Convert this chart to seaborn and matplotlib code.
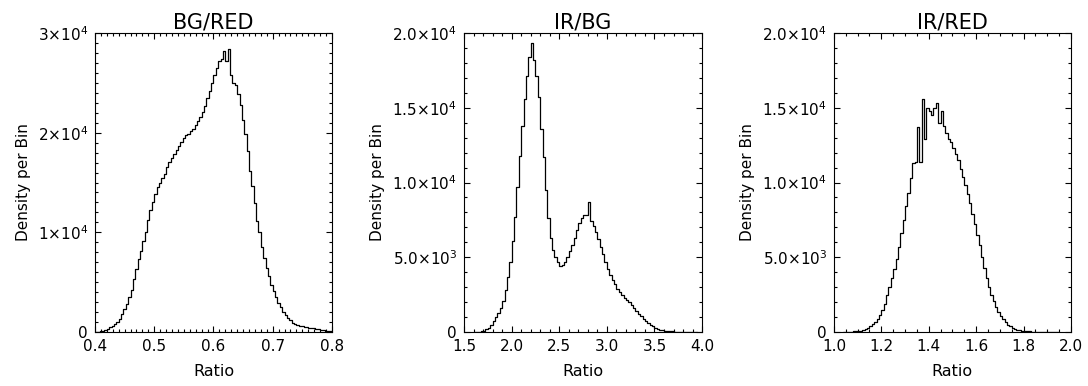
import numpy as np
import pandas as pd
import matplotlib
matplotlib.use("Agg")
import matplotlib.pyplot as plt
import seaborn as sns
from matplotlib.ticker import MultipleLocator, FuncFormatter

# Histogram counts (bin start, bin width, counts per bin)
BG_RED_START = 0.400
BG_RED_WIDTH = 0.004
bg_red_counts = [
    0, 30, 60, 120, 200, 330, 500, 650, 850, 1050,
    1350, 1800, 2300, 2800, 3500, 4200, 5300, 6300, 7300, 8100,
    9100, 10000, 11200, 12200, 13000, 13800, 14500, 15000, 15500, 15900,
    16600, 17100, 17500, 17900, 18300, 18700, 19100, 19500, 19800, 19900,
    20200, 20400, 20800, 21200, 21600, 22100, 22700, 23500, 24200, 25000,
    25800, 26500, 27200, 27400, 28200, 27200, 28400, 25800, 25000, 24800,
    23900, 22800, 21300, 19900, 18200, 16200, 14600, 12900, 11100, 10000,
    8500, 7400, 6400, 5600, 4700, 4100, 3500, 2900, 2500, 2000,
    1700, 1400, 1200, 950, 820, 720, 640, 580, 530, 480,
    440, 400, 360, 320, 280, 240, 200, 150, 100, 60,
]

IR_BG_START = 1.600
IR_BG_WIDTH = 0.025
ir_bg_counts = [
    0, 0, 20, 50, 100, 170, 300, 480, 720, 980,
    1250, 1600, 2100, 2800, 3700, 4700, 6100, 7700, 9700, 11800,
    13800, 15600, 17100, 18400, 19300, 18200, 17100, 15700, 13600, 11700,
    9500, 7600, 6300, 5500, 5000, 4700, 4400, 4500, 4700, 5000,
    5400, 5800, 6300, 6800, 7300, 7600, 7800, 7800, 8700, 7400,
    7100, 6700, 6200, 5700, 5200, 4700, 4200, 3800, 3500, 3200,
    2900, 2700, 2500, 2300, 2150, 2000, 1800, 1600, 1400, 1200,
    1050, 900, 760, 620, 500, 380, 280, 200, 150, 110,
    80, 60, 50, 40, 30, 25, 20, 20, 15, 15,
    10, 10, 5, 0,
]

IR_RED_START = 1.04
IR_RED_WIDTH = 0.01
ir_red_counts = [
    0, 10, 20, 30, 40, 50, 70, 100, 140, 190,
    260, 380, 520, 700, 900, 1150, 1500, 1900, 2500, 3000,
    3600, 4200, 4900, 5700, 6600, 7500, 8400, 9300, 10300, 11300,
    11400, 13700, 11400, 15600, 12900, 15000, 14800, 14500, 15000, 15300,
    14000, 14800, 13800, 13300, 12900, 12700, 12300, 11900, 11500, 10900,
    10400, 9800, 9200, 8600, 7900, 7200, 6500, 5800, 5000, 4300,
    3600, 3000, 2500, 2100, 1700, 1350, 1100, 850, 650, 500,
    380, 280, 200, 150, 110, 80, 60, 45, 35, 30,
    25, 20, 15, 15, 10, 10, 10, 5, 5, 5,
    0,
]

titles = ["BG/RED", "IR/BG", "IR/RED"]
x_limits = [(0.4, 0.8), (1.5, 4.0), (1.0, 2.0)]
y_limits = [(0, 30000), (0, 20000), (0, 20000)]
x_major = [0.1, 0.5, 0.2]
x_minor = [0.01, 0.1, 0.05]
y_major = [10000, 5000, 5000]
y_minor = [1000, 1000, 1000]
y_decimals = [0, 1, 1]


def make_frame(start, width, counts):
    counts = np.asarray(counts, dtype=float)
    centers = start + width * (np.arange(len(counts)) + 0.5)
    binrange = (start, start + width * len(counts))
    return pd.DataFrame({"ratio": centers, "count": counts}), width, binrange


def idl_label(decimals):
    def fmt(value, pos):
        if value == 0:
            return "0"
        exp = int(np.floor(np.log10(abs(value))))
        mant = value / 10 ** exp
        return rf"${mant:.{decimals}f}{{\times}}10^{{{exp}}}$"
    return fmt


sns.set_style("ticks")
plt.rcParams["font.family"] = ["DejaVu Sans"]
plt.rcParams["mathtext.fontset"] = "dejavusans"
plt.rcParams["text.color"] = "black"
plt.rcParams["axes.labelcolor"] = "black"
plt.rcParams["xtick.color"] = "black"
plt.rcParams["ytick.color"] = "black"

fig = plt.figure(figsize=(10.88, 3.86), dpi=100)
axes_boxes = [
    [0.0873, 0.1399, 0.2178, 0.7746],
    [0.4265, 0.1399, 0.2188, 0.7746],
    [0.7665, 0.1399, 0.2178, 0.7746],
]

datasets = [
    make_frame(BG_RED_START, BG_RED_WIDTH, bg_red_counts),
    make_frame(IR_BG_START, IR_BG_WIDTH, ir_bg_counts),
    make_frame(IR_RED_START, IR_RED_WIDTH, ir_red_counts),
]

for i, (frame, width, binrange) in enumerate(datasets):
    ax = fig.add_axes(axes_boxes[i])
    sns.histplot(
        data=frame,
        x="ratio",
        weights="count",
        binwidth=width,
        binrange=binrange,
        element="step",
        fill=False,
        color="black",
        linewidth=0.9,
        ax=ax,
    )
    ax.set_xlim(*x_limits[i])
    ax.set_ylim(*y_limits[i])
    ax.set_title(titles[i], fontsize=15, pad=3, color="black")
    ax.set_xlabel("Ratio", fontsize=11.5, labelpad=7)
    ax.set_ylabel("Density per Bin", fontsize=11, labelpad=5)

    ax.xaxis.set_major_locator(MultipleLocator(x_major[i]))
    ax.xaxis.set_minor_locator(MultipleLocator(x_minor[i]))
    ax.yaxis.set_major_locator(MultipleLocator(y_major[i]))
    ax.yaxis.set_minor_locator(MultipleLocator(y_minor[i]))
    ax.xaxis.set_major_formatter(FuncFormatter(lambda v, p: f"{v:.1f}"))
    ax.yaxis.set_major_formatter(FuncFormatter(idl_label(y_decimals[i])))

    ax.tick_params(which="both", direction="in", top=True, right=True,
                   labelsize=11, color="black", width=0.8)
    ax.tick_params(which="major", length=4.5, pad=5)
    ax.tick_params(which="minor", length=2.2)
    for spine in ax.spines.values():
        spine.set_visible(True)
        spine.set_linewidth(0.8)
        spine.set_color("black")

fig.savefig("out.png", dpi=100)
